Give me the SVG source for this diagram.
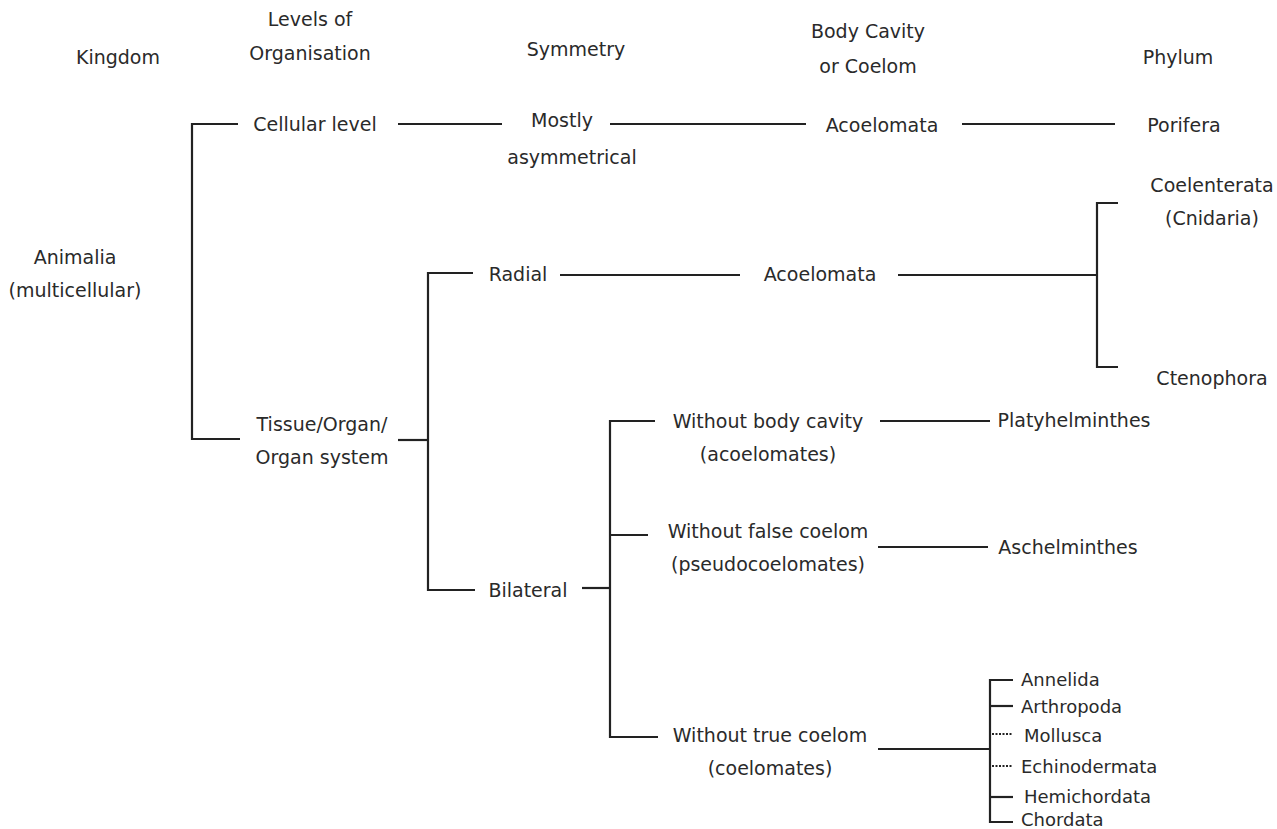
<svg xmlns="http://www.w3.org/2000/svg" width="1277" height="829" viewBox="0 0 1277 829">
<style>
text{font-family:"DejaVu Sans","Noto Sans",sans-serif;font-size:19px;fill:#2a2a2a;text-anchor:middle}
.l{text-anchor:start;font-size:18px}
.c{fill:none;stroke:#222;stroke-width:2.2}
.d{fill:none;stroke:#222;stroke-width:2.2;stroke-dasharray:2 1.5}
</style>
<rect width="1277" height="829" fill="#fff"/>
<g id="headers">
<text x="118" y="64">Kingdom</text>
<text x="310" y="26">Levels of</text>
<text x="310" y="60">Organisation</text>
<text x="576" y="56">Symmetry</text>
<text x="868" y="38">Body Cavity</text>
<text x="868" y="73">or Coelom</text>
<text x="1178" y="64">Phylum</text>
</g>
<g id="connectors">
<path class="c" d="M238,124H192V439H240"/>
<path class="c" d="M398,124H502"/>
<path class="c" d="M610,124H806"/>
<path class="c" d="M962,124H1115"/>
<path class="c" d="M398,440H428"/>
<path class="c" d="M473,273H428V590H475"/>
<path class="c" d="M560,275H740"/>
<path class="c" d="M898,275H1097"/>
<path class="c" d="M1118,203H1097V367H1118"/>
<path class="c" d="M582,588H610"/>
<path class="c" d="M655,421H610V737H658"/>
<path class="c" d="M610,535H648"/>
<path class="c" d="M880,421H990"/>
<path class="c" d="M878,547H988"/>
<path class="c" d="M878,749H990"/>
<path class="c" d="M1013,680H990V822H1013"/>
<path class="c" d="M990,706H1013"/>
<path class="c" d="M990,797H1013"/>
<path class="d" d="M992,734H1013"/>
<path class="d" d="M992,766H1013"/>
</g>
<g id="animalia"><text x="75" y="264">Animalia</text><text x="75" y="297">(multicellular)</text></g>
<g id="cellular"><text x="315" y="131">Cellular level</text></g>
<g id="tissue"><text x="322" y="431">Tissue/Organ/</text><text x="322" y="464">Organ system</text></g>
<g id="mostly"><text x="562" y="127">Mostly</text><text x="572" y="164">asymmetrical</text></g>
<g id="radial"><text x="518" y="281">Radial</text></g>
<g id="bilateral"><text x="528" y="597">Bilateral</text></g>
<g id="acoel1"><text x="882" y="132">Acoelomata</text></g>
<g id="acoel2"><text x="820" y="281">Acoelomata</text></g>
<g id="without-body"><text x="768" y="428">Without body cavity</text><text x="768" y="461">(acoelomates)</text></g>
<g id="without-false"><text x="768" y="538">Without false coelom</text><text x="768" y="571">(pseudocoelomates)</text></g>
<g id="without-true"><text x="770" y="742">Without true coelom</text><text x="770" y="775">(coelomates)</text></g>
<g id="porifera"><text x="1184" y="132">Porifera</text></g>
<g id="coelenterata"><text x="1212" y="192">Coelenterata</text><text x="1212" y="225">(Cnidaria)</text></g>
<g id="ctenophora"><text x="1212" y="385">Ctenophora</text></g>
<g id="platyhelminthes"><text x="1074" y="427">Platyhelminthes</text></g>
<g id="aschelminthes"><text x="1068" y="554">Aschelminthes</text></g>
<g id="annelida"><text class="l" x="1021" y="686">Annelida</text></g>
<g id="arthropoda"><text class="l" x="1021" y="713">Arthropoda</text></g>
<g id="mollusca"><text class="l" x="1024" y="742">Mollusca</text></g>
<g id="echinodermata"><text class="l" x="1021" y="773">Echinodermata</text></g>
<g id="hemichordata"><text class="l" x="1024" y="803">Hemichordata</text></g>
<g id="chordata"><text class="l" x="1021" y="826">Chordata</text></g>
</svg>
